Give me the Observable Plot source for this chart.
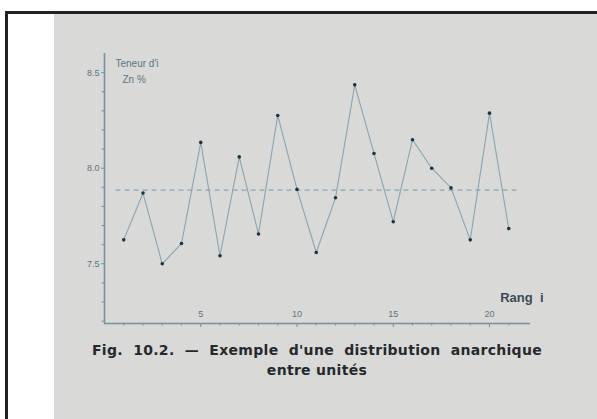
<!DOCTYPE html>
<html><head><meta charset="utf-8">
<script src="https://cdn.jsdelivr.net/npm/d3@7"></script>
<script src="https://cdn.jsdelivr.net/npm/@observablehq/plot@0.6"></script>
<style>
html,body{margin:0;padding:0;background:#fff;width:597px;height:419px;overflow:hidden;position:relative;}
#border{position:absolute;left:5px;top:11px;width:600px;height:420px;border-left:3px solid #222;border-top:3px solid #222;}
#panel{position:absolute;left:54px;top:14px;width:543px;height:405px;background:#d9d9d7;}
#chart{position:absolute;left:0;top:0;}
.cap{position:absolute;font-family:"DejaVu Sans",sans-serif;font-weight:bold;font-size:14px;line-height:16px;color:#25292d;white-space:nowrap;letter-spacing:0.3px;}
</style></head><body>
<div id="border"></div>
<div id="panel"></div>
<div id="chart"></div>
<div class="cap" style="left:92px;top:342px;width:450px;text-align:justify;text-align-last:justify;white-space:normal;">Fig. 10.2. — Exemple d'une distribution anarchique</div>
<div class="cap" style="left:92px;top:362px;width:450px;text-align:center;">entre unités</div>
<script>
const rang = [1,2,3,4,5,6,7,8,9,10,11,12,13,14,15,16,17,18,19,20,21];
const teneur = [7.625,7.87,7.50,7.606,8.135,7.542,8.059,7.656,8.276,7.889,7.559,7.845,8.436,8.077,7.72,8.149,8.00,7.897,7.625,8.288,7.684];
const moyenne = 7.885;
const yMajor = [7.5, 8.0, 8.5];
const yLabels = ["7.5", "8.0", "8.5"];
const yMinor = [7.2,7.3,7.4,7.6,7.7,7.8,7.9,8.1,8.2,8.3,8.4];
const xMajor = [5, 10, 15, 20];
const xMinor = [1,2,3,4,6,7,8,9,11,12,13,14,16,17,18,19,21];
const yTitle1 = "Teneur d'i";
const yTitle2 = "Zn %";
const xTitle = "Rang  i";

const xDom = [0, 22.13];
const yDom = [7.1875, 8.6];
const data = rang.map((r, i) => ({rang: r, teneur: teneur[i]}));
const axisCol = "#7192a3";
const lineCol = "#88a5b4";
const tickTxt = "#5a7585";

const chart = Plot.plot({
  width: 597, height: 419,
  marginLeft: 104, marginRight: 67, marginTop: 53, marginBottom: 96,
  style: {background: "transparent", fontFamily: "Liberation Sans, sans-serif"},
  x: {domain: xDom, axis: null, label: null},
  y: {domain: yDom, axis: null, label: null},
  marks: [
    Plot.ruleX([xDom[0]], {y1: yDom[0], y2: yDom[1], stroke: axisCol, strokeWidth: 1.6}),
    Plot.ruleY([yDom[0]], {x1: xDom[0], x2: xDom[1], stroke: axisCol, strokeWidth: 1.6}),
    Plot.axisY({ticks: yMinor, tickSize: 2.5, tickFormat: () => "", stroke: axisCol, label: null}),
    Plot.axisY({ticks: yMajor, tickSize: 3, tickPadding: 2, tickFormat: (d, i) => yLabels[i], stroke: axisCol, fill: tickTxt, fontSize: 9, label: null}),
    Plot.axisX({ticks: xMinor, tickSize: 2.5, tickFormat: () => "", stroke: axisCol, label: null}),
    Plot.axisX({ticks: xMajor, tickSize: 4, tickFormat: () => "", stroke: axisCol, label: null}),
    Plot.text(xMajor, {x: d => d, frameAnchor: "bottom", dy: -7, text: d => String(d), fill: tickTxt, fontSize: 9}),
    Plot.ruleY([moyenne], {x1: 0.6, x2: 21.5, stroke: lineCol, strokeWidth: 1.2, strokeDasharray: "5,4"}),
    Plot.line(data, {x: "rang", y: "teneur", stroke: lineCol, strokeWidth: 1.1}),
    Plot.dot(data, {x: "rang", y: "teneur", r: 1.8, fill: "#1d3340", stroke: "none"}),
    Plot.text([yTitle1], {frameAnchor: "top-left", dx: 11, dy: 6, text: d => d, textAnchor: "start", fill: tickTxt, fontSize: 10, letterSpacing: "1px"}),
    Plot.text([yTitle2], {frameAnchor: "top-left", dx: 18, dy: 22, text: d => d, textAnchor: "start", fill: tickTxt, fontSize: 10, letterSpacing: "1px"}),
    Plot.text([xTitle], {frameAnchor: "bottom-right", dx: 13, dy: -22, text: d => d, textAnchor: "end", fill: "#3a4a55", fontSize: 13, fontWeight: "bold"})
  ]
});
document.getElementById("chart").appendChild(chart);
</script>
</body></html>
